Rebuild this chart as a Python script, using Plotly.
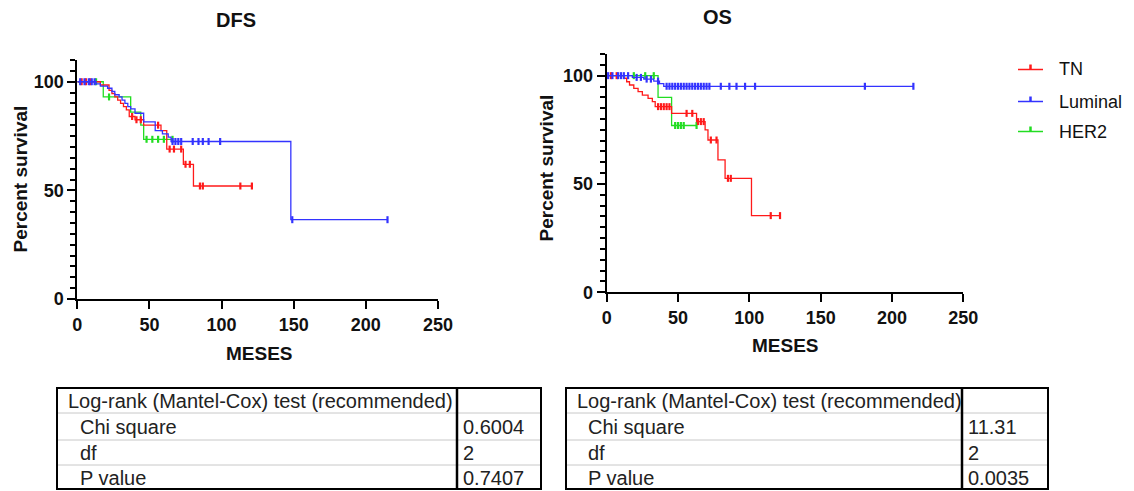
import plotly.graph_objects as go

W, H = 1134, 491
FONT = "Liberation Sans, Arial, sans-serif"

# ---------------- data ----------------
dfs_tn_t = [0, 16, 22, 24, 26, 28, 30, 32, 34, 36, 40, 46, 58, 62, 73.5, 80.5, 121]
dfs_tn_s = [100, 98.5, 96, 94.5, 93, 91.5, 90, 88.5, 87, 84, 82.5, 80, 77.5, 69, 62, 52, 52]
dfs_tn_cens = [3, 6, 9, 38, 41, 44, 56, 64, 67, 72, 75, 78, 85, 87, 113, 121]

dfs_lum_t = [0, 13, 16, 21, 24, 26, 29, 31, 33, 35, 37, 40, 46, 54, 59, 63, 65, 148, 215]
dfs_lum_s = [100, 99, 98, 97, 95.5, 94, 93, 91.5, 90, 88.5, 87.5, 85.5, 81.5, 77.5, 76, 74.5, 72.5, 36.5, 36.5]
dfs_lum_cens = [2, 5, 8, 10, 12, 66, 68, 70, 72, 80, 84, 87, 91, 99, 149, 215]

dfs_her_t = [0, 18, 37, 44, 46, 66]
dfs_her_s = [100, 93, 86, 80, 73.5, 73.5]
dfs_her_cens = [13, 22, 48, 52, 56, 60, 66]

os_tn_t = [0, 12, 14, 16, 19, 22, 25, 29, 32, 34, 45.5, 63, 69, 71, 78, 83, 101.5, 121.5]
os_tn_s = [100, 98.8, 97.2, 95.7, 94.1, 92.6, 91, 89.5, 88, 85.7, 82.6, 78.8, 75, 70.3, 61.1, 52.6, 35.4, 35.4]
os_tn_cens = [3, 7, 36, 38, 40, 42, 44, 56, 60, 64, 66, 68, 73, 77, 85, 87, 115, 121.5]

os_lum_t = [0, 18, 26, 33, 37, 40, 215]
os_lum_s = [100, 99.2, 98.4, 97.5, 96.3, 95.1, 95.1]
os_lum_cens = [1, 4, 8, 10, 12, 15, 21, 24, 28, 31, 36, 42, 44, 46, 48, 50, 52, 54, 56,
               58, 60, 62, 64, 66, 68, 70, 72, 80, 86, 91, 97, 104, 181, 215]

os_her_t = [0, 36, 45.5, 63]
os_her_s = [100, 90, 77, 77]
os_her_cens = [19, 27, 33, 48, 50, 52, 54, 63]

groups = ["TN", "Luminal", "HER2"]
colors = {"TN": "#ff1a1a", "Luminal": "#3333ff", "HER2": "#22dd22"}

x_ticks = [0, 50, 100, 150, 200, 250]
y_ticks = [0, 50, 100]

table_labels = ["Log-rank (Mantel-Cox) test (recommended)", "Chi square", "df", "P value"]
dfs_table_vals = ["", "0.6004", "2", "0.7407"]
os_table_vals = ["", "11.31", "2", "0.0035"]

titles = ["DFS", "OS"]

def step_value(ts, ss, t):
    v = ss[0]
    for ti, si in zip(ts, ss):
        if ti <= t:
            v = si
    return v

def px(x):
    return x / W

def py(y):
    return 1 - y / H

fig = go.Figure()

panels = [
    ("x", "y", {"TN": (dfs_tn_t, dfs_tn_s, dfs_tn_cens),
                "Luminal": (dfs_lum_t, dfs_lum_s, dfs_lum_cens),
                "HER2": (dfs_her_t, dfs_her_s, dfs_her_cens)}),
    ("x2", "y2", {"TN": (os_tn_t, os_tn_s, os_tn_cens),
                  "Luminal": (os_lum_t, os_lum_s, os_lum_cens),
                  "HER2": (os_her_t, os_her_s, os_her_cens)}),
]

for xa, ya, data in panels:
    for g in ["HER2", "TN", "Luminal"]:
        ts, ss, cens = data[g]
        fig.add_trace(go.Scatter(
            x=ts, y=ss, mode="lines", line=dict(color=colors[g], width=1.3, shape="hv"),
            xaxis=xa, yaxis=ya, showlegend=False, hoverinfo="skip", cliponaxis=False))
        fig.add_trace(go.Scatter(
            x=cens, y=[step_value(ts, ss, c) for c in cens], mode="markers",
            marker=dict(symbol="line-ns", size=5, line=dict(color=colors[g], width=2.2)),
            xaxis=xa, yaxis=ya, showlegend=False, hoverinfo="skip", cliponaxis=False))

axis_common = dict(
    showline=True, linecolor="black", linewidth=2, ticks="outside", ticklen=8,
    tickwidth=2, tickcolor="black", showgrid=False, zeroline=False, automargin=False,
    tickfont=dict(family=FONT, size=18, color="#111", weight="bold"),
)

fig.update_layout(
    width=W, height=H, margin=dict(l=0, r=0, t=0, b=0, pad=0, autoexpand=False), autosize=False,
    paper_bgcolor="white", plot_bgcolor="white", showlegend=False,
    xaxis=dict(domain=[px(77.3), px(438)], range=[0, 250], tickvals=x_ticks, anchor="y", **axis_common),
    yaxis=dict(domain=[py(299), py(60)], range=[0, 110], tickvals=y_ticks, anchor="x",
               minor=dict(dtick=5, ticklen=5, tickwidth=2, tickcolor="black", ticks="outside"),
               **axis_common),
    xaxis2=dict(domain=[px(606.7), px(963.3)], range=[0, 250], tickvals=x_ticks, anchor="y2", **axis_common),
    yaxis2=dict(domain=[py(292.3), py(54)], range=[0, 110], tickvals=y_ticks, anchor="x2",
                minor=dict(dtick=5, ticklen=5, tickwidth=2, tickcolor="black", ticks="outside"),
                **axis_common),
)

ann = []
shapes = []
bold = dict(family=FONT, color="#111", weight="bold")

def text(t, x, y, font, xanchor="center", angle=0):
    ann.append(dict(text=t, x=px(x), y=py(y), xref="paper", yref="paper", showarrow=False,
                    xanchor=xanchor, yanchor="middle", textangle=angle, font=font))

text(titles[0], 236, 20, dict(size=20, **bold))
text(titles[1], 717, 17, dict(size=20, **bold))
for cx, cy in [(19.5, 179), (545.5, 168)]:
    text("Percent survival", cx, cy, dict(size=19, **bold), angle=-90)
for cx, cy in [(259, 353), (785, 345)]:
    text("MESES", cx, cy, dict(size=19, **bold))

for i, g in enumerate(groups):
    ly = [69.5, 101.5, 131.5][i]
    shapes.append(dict(type="line", xref="paper", yref="paper", x0=px(1018), x1=px(1043),
                       y0=py(ly), y1=py(ly), line=dict(color=colors[g], width=1.5)))
    shapes.append(dict(type="line", xref="paper", yref="paper", x0=px(1030.5), x1=px(1030.5),
                       y0=py(ly), y1=py(ly - 5), line=dict(color=colors[g], width=2.5)))
    text(g, 1057, ly, dict(family=FONT, size=18, color="#111"), xanchor="left")

def add_table(x0, x1, xs, vals, lab_x, lab_x2, val_x):
    rows = [388, 413, 440, 465, 489]
    for r in rows[1:-1]:
        shapes.append(dict(type="line", xref="paper", yref="paper", x0=px(x0), x1=px(x1),
                           y0=py(r), y1=py(r), line=dict(color="#c8c8c8", width=1)))
    shapes.append(dict(type="rect", xref="paper", yref="paper", x0=px(x0), x1=px(x1),
                       y0=py(rows[-1]), y1=py(rows[0]), line=dict(color="black", width=2)))
    shapes.append(dict(type="line", xref="paper", yref="paper", x0=px(xs), x1=px(xs),
                       y0=py(rows[-1]), y1=py(rows[0]), line=dict(color="black", width=2.5)))
    for i, (lab, v) in enumerate(zip(table_labels, vals)):
        cy = (rows[i] + rows[i + 1]) / 2 + 0.5
        text(lab, lab_x if i == 0 else lab_x2, cy, dict(family=FONT, size=20, color="#222"),
             xanchor="left")
        if v:
            text(v, val_x, cy, dict(family=FONT, size=20, color="#222"), xanchor="left")

add_table(57, 541, 457, dfs_table_vals, 66, 78, 461)
add_table(566, 1048, 962, os_table_vals, 575, 586, 966)

fig.update_layout(annotations=ann, shapes=shapes)
fig.write_html("out.html",
               post_script="document.body.style.margin='0';document.body.style.overflow='hidden';")
